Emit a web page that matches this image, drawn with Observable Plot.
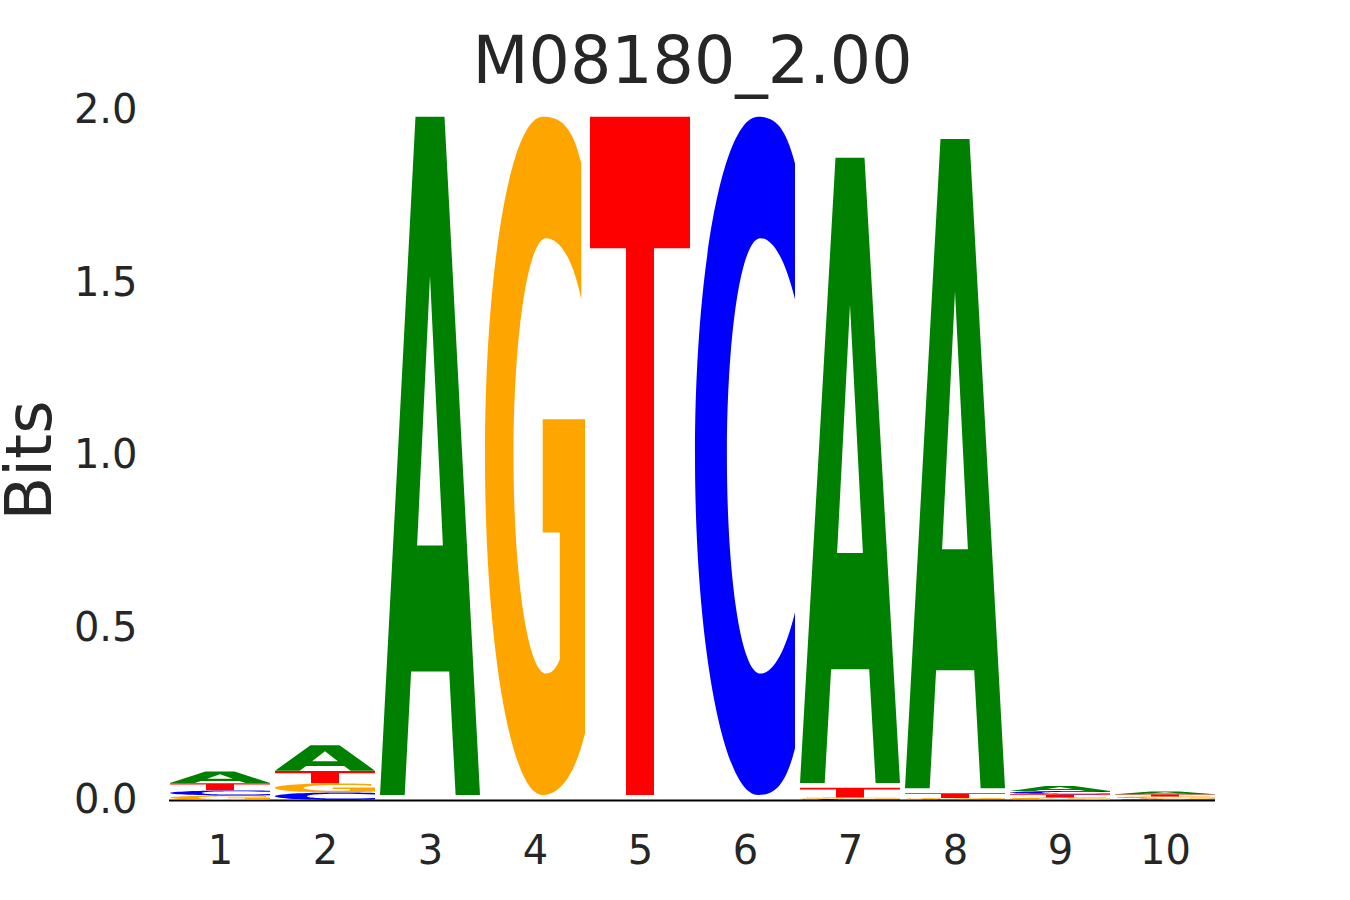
<!DOCTYPE html>
<html>
<head>
<meta charset="utf-8">
<script src="https://cdn.jsdelivr.net/npm/d3@7"></script>
<script src="https://cdn.jsdelivr.net/npm/@observablehq/plot@0.6"></script>
<style>
  html, body { margin: 0; padding: 0; background: #ffffff; }
  #chart { width: 1350px; height: 900px; }
</style>
</head>
<body>
<div id="chart"></div>
<script>
// ---- Data (information content in bits per letter, per position) ----
const title = "M08180_2.00";
const yLabel = "Bits";
const positions = [1, 2, 3, 4, 5, 6, 7, 8, 9, 10];
const letters = ["A", "C", "G", "T"];
const bitsA = [0.034, 0.0745, 1.995, 0, 0, 0, 1.839, 1.910, 0.015, 0.008];
const bitsC = [0.015, 0.022, 0, 0, 0, 1.995, 0.003, 0.0025, 0.0095, 0.004];
const bitsG = [0.013, 0.026, 0, 1.995, 0, 0, 0.004, 0.003, 0.0075, 0.006];
const bitsT = [0.021, 0.0365, 0, 0, 1.995, 0, 0.029, 0.0145, 0.009, 0.0065];
const yTicks = [0, 0.5, 1, 1.5, 2];
const letterColors = {A: "#008000", C: "#0000ff", G: "#ffa500", T: "#ff0000"};

// Glyph outlines in a unit box (x right, y down)
const glyphs = {
  A: "M0,1 L0.247,1 L0.311,0.818 L0.692,0.818 L0.756,1 L1,1 L0.645,0 L0.355,0 Z M0.371,0.632 L0.629,0.632 L0.5,0.235 Z",
  T: "M0,0 H1 V0.194 H0.64 V1 H0.36 V0.194 H0 Z",
  C: "M1,0.069 C0.9,0.01 0.78,0 0.631,0 C0.283,0 0,0.224 0,0.5 C0,0.776 0.283,1 0.631,1 C0.78,1 0.9,0.99 1,0.931 L1,0.731 C0.9,0.79 0.78,0.821 0.654,0.821 C0.46,0.821 0.319,0.677 0.319,0.5 C0.319,0.323 0.46,0.179 0.654,0.179 C0.78,0.179 0.9,0.21 1,0.269 Z",
  G: "M0.963,0.069 C0.87,0.01 0.74,0 0.577,0 C0.258,0 0,0.224 0,0.5 C0,0.776 0.258,1 0.577,1 C0.75,1 0.9,0.97 1,0.909 L1,0.446 L0.577,0.446 L0.577,0.613 L0.748,0.613 L0.748,0.8 C0.71,0.815 0.66,0.821 0.611,0.821 C0.431,0.821 0.285,0.677 0.285,0.5 C0.285,0.323 0.431,0.179 0.611,0.179 C0.75,0.179 0.88,0.21 0.963,0.269 Z"
};

// Build stacked rows: smallest letter at bottom
const series = {A: bitsA, C: bitsC, G: bitsG, T: bitsT};
const rows = [];
positions.forEach((pos, i) => {
  const col = letters.map(l => ({letter: l, value: series[l][i]})).filter(d => d.value > 0);
  col.sort((a, b) => a.value - b.value);
  let acc = 0;
  for (const d of col) {
    rows.push({pos, letter: d.letter, y1: acc, y2: acc + d.value, color: letterColors[d.letter]});
    acc += d.value;
  }
});

const glyphPad = 0.00725;

function renderGlyphs(index, scales) {
  const g = d3.create("svg:g");
  const bw = scales.x.bandwidth();
  for (const i of index) {
    const r = rows[i];
    const x0 = scales.x(r.pos);
    const yTop = scales.y(r.y2);
    const yBot = scales.y(r.y1);
    const h = yBot - yTop;
    const inset = h * glyphPad;
    g.append("path")
      .attr("d", glyphs[r.letter])
      .attr("fill", r.color)
      .attr("fill-rule", "evenodd")
      .attr("transform", `translate(${x0},${yTop + inset}) scale(${bw},${Math.max(h - 2 * inset, 0.0001)})`);
  }
  return g.node();
}

const chart = Plot.plot({
  width: 1350,
  height: 900,
  marginLeft: 169,
  marginRight: 135,
  marginTop: 110,
  marginBottom: 100,
  style: {fontFamily: "'DejaVu Sans', sans-serif", color: "#262626", background: "#ffffff"},
  x: {type: "band", domain: positions, paddingInner: 0.05, paddingOuter: 0, align: 0.5},
  y: {domain: [0, 2]},
  marks: [
    Plot.ruleY([0], {stroke: "#000000", strokeWidth: 2}),
    Plot.barY(rows, {x: "pos", y1: "y1", y2: "y2", fill: "color", render: renderGlyphs}),
    Plot.axisY({ticks: yTicks, tickFormat: d3.format(".1f"), tickSize: 0, tickPadding: 32, fontSize: 40, label: null}),
    Plot.axisX({ticks: positions, tickSize: 0, tickPadding: 35, fontSize: 40, label: null}),
    Plot.text([yLabel], {frameAnchor: "left", rotate: -90, dx: -119, dy: 5, textAnchor: "middle", lineAnchor: "bottom", fontSize: 64, fill: "#262626"}),
    Plot.text([title], {frameAnchor: "top", dy: -48, lineAnchor: "middle", fontSize: 65, fill: "#262626"})
  ]
});
document.getElementById("chart").appendChild(chart);
</script>
</body>
</html>
